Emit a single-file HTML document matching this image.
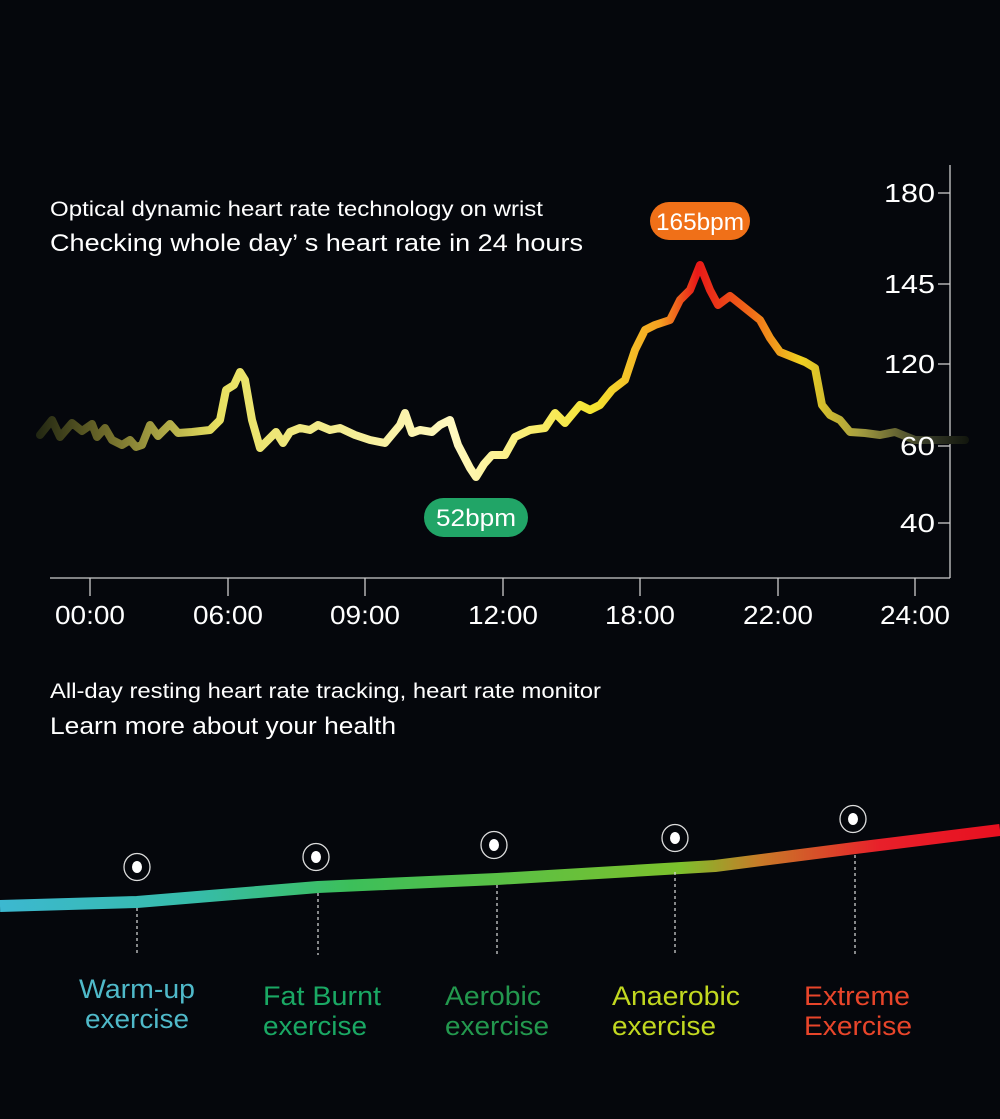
<!DOCTYPE html>
<html><head><meta charset="utf-8"><style>
html,body{margin:0;padding:0;background:#05070c;}
svg{display:block}
text{font-family:"Liberation Sans",sans-serif;}
</style></head><body>
<svg width="1000" height="1119" viewBox="0 0 1000 1119">
<defs>
<linearGradient id="hr" gradientUnits="userSpaceOnUse" x1="30" y1="0" x2="970" y2="0">
<stop offset="0" stop-color="#1a2010"/>
<stop offset="0.08" stop-color="#6e6a2a"/>
<stop offset="0.2" stop-color="#e8e060"/>
<stop offset="0.45" stop-color="#fff8c0"/>
<stop offset="0.6" stop-color="#f4e430"/>
<stop offset="0.67" stop-color="#f4a020"/>
<stop offset="0.71" stop-color="#e81818"/>
<stop offset="0.77" stop-color="#f07018"/>
<stop offset="0.82" stop-color="#f0d020"/>
<stop offset="0.88" stop-color="#a8a040"/>
<stop offset="0.95" stop-color="#3a3e2a"/>
<stop offset="1" stop-color="#10140c"/>
</linearGradient>
<linearGradient id="band" gradientUnits="userSpaceOnUse" x1="0" y1="0" x2="1000" y2="0">
<stop offset="0" stop-color="#3cb8d0"/>
<stop offset="0.2" stop-color="#36bca8"/>
<stop offset="0.35" stop-color="#3cbf5a"/>
<stop offset="0.68" stop-color="#7cc02c"/>
<stop offset="0.76" stop-color="#c87a28"/>
<stop offset="0.88" stop-color="#e8202a"/>
<stop offset="1" stop-color="#e81020"/>
</linearGradient>
</defs>
<g fill="#fff">
<text x="50" y="216" font-size="21" textLength="493" lengthAdjust="spacingAndGlyphs">Optical dynamic heart rate technology on wrist</text>
<text x="50" y="251" font-size="24" textLength="533" lengthAdjust="spacingAndGlyphs">Checking whole day’ s heart rate in 24 hours</text>
</g>
<g stroke="#ccc" stroke-width="1.3" fill="none">
<line x1="50" y1="578" x2="950" y2="578"/>
<line x1="950" y1="165" x2="950" y2="578"/>
<line x1="90" y1="578" x2="90" y2="596"/><line x1="228" y1="578" x2="228" y2="596"/>
<line x1="365" y1="578" x2="365" y2="596"/><line x1="503" y1="578" x2="503" y2="596"/>
<line x1="640" y1="578" x2="640" y2="596"/><line x1="778" y1="578" x2="778" y2="596"/>
<line x1="915" y1="578" x2="915" y2="596"/>
<line x1="938" y1="193" x2="950" y2="193"/><line x1="938" y1="284" x2="950" y2="284"/>
<line x1="938" y1="364" x2="950" y2="364"/><line x1="938" y1="446" x2="950" y2="446"/>
<line x1="938" y1="523" x2="950" y2="523"/>
</g>
<polyline fill="none" stroke="url(#hr)" stroke-width="8" stroke-linejoin="round" stroke-linecap="round"
points="40,435 52,420 60,437 72,423 82,431 92,424 97,437 105,428 112,440 122,445 130,440 136,447 142,445 150,425 158,436 170,424 178,433 192,432 210,430 220,420 226,390 234,385 240,372 245,380 252,420 260,448 268,440 276,432 283,443 290,432 300,428 310,430 318,425 330,430 340,428 355,435 370,440 385,443 400,425 405,413 412,433 420,430 432,432 440,425 450,420 458,445 470,468 476,477 484,464 492,455 505,455 515,437 530,430 545,428 555,413 565,423 580,405 590,410 600,405 612,390 625,380 635,350 645,330 655,325 670,320 680,300 690,290 700,265 710,290 718,305 730,296 745,308 760,320 770,338 780,352 795,358 805,362 815,368 822,405 830,415 840,420 850,432 865,433 880,435 895,432 915,440 935,440 965,440"/>
<g fill="#fff" font-size="26" text-anchor="end">
<text x="935" y="202" textLength="51" lengthAdjust="spacingAndGlyphs">180</text><text x="935" y="293" textLength="51" lengthAdjust="spacingAndGlyphs">145</text>
<text x="935" y="373" textLength="51" lengthAdjust="spacingAndGlyphs">120</text><text x="935" y="455" textLength="35" lengthAdjust="spacingAndGlyphs">60</text><text x="935" y="532" textLength="35" lengthAdjust="spacingAndGlyphs">40</text>
</g>
<g fill="#fff" font-size="26" text-anchor="middle">
<text x="90" y="624" textLength="70" lengthAdjust="spacingAndGlyphs">00:00</text><text x="228" y="624" textLength="70" lengthAdjust="spacingAndGlyphs">06:00</text><text x="365" y="624" textLength="70" lengthAdjust="spacingAndGlyphs">09:00</text>
<text x="503" y="624" textLength="70" lengthAdjust="spacingAndGlyphs">12:00</text><text x="640" y="624" textLength="70" lengthAdjust="spacingAndGlyphs">18:00</text><text x="778" y="624" textLength="70" lengthAdjust="spacingAndGlyphs">22:00</text>
<text x="915" y="624" textLength="70" lengthAdjust="spacingAndGlyphs">24:00</text>
</g>
<rect x="650" y="202" width="100" height="38" rx="19" fill="#f07018"/>
<text x="700" y="230" fill="#fff" font-size="24" text-anchor="middle" textLength="88" lengthAdjust="spacingAndGlyphs">165bpm</text>
<rect x="424" y="498" width="104" height="39" rx="19.5" fill="#21a567"/>
<text x="476" y="526" fill="#fff" font-size="24" text-anchor="middle" textLength="80" lengthAdjust="spacingAndGlyphs">52bpm</text>
<g fill="#fff">
<text x="50" y="698" font-size="21" textLength="551" lengthAdjust="spacingAndGlyphs">All-day resting heart rate tracking, heart rate monitor</text>
<text x="50" y="734" font-size="24" textLength="346" lengthAdjust="spacingAndGlyphs">Learn more about your health</text>
</g>
<polyline fill="none" stroke="url(#band)" stroke-width="12" stroke-linejoin="round"
points="0,906 137,902 318,887 497,879 715,866 855,848 1000,830"/>
<g stroke="#ddd" stroke-width="1.2" stroke-dasharray="3,3">
<line x1="137" y1="908" x2="137" y2="955"/><line x1="318" y1="893" x2="318" y2="955"/>
<line x1="497" y1="885" x2="497" y2="955"/><line x1="675" y1="872" x2="675" y2="955"/>
<line x1="855" y1="855" x2="855" y2="955"/>
</g>
<g fill="none" stroke="#ddd" stroke-width="1.3">
<ellipse cx="137" cy="867" rx="13" ry="13.5"/><ellipse cx="316" cy="857" rx="13" ry="13.5"/>
<ellipse cx="494" cy="845" rx="13" ry="13.5"/><ellipse cx="675" cy="838" rx="13" ry="13.5"/>
<ellipse cx="853" cy="819" rx="13" ry="13.5"/>
</g>
<g fill="#fff">
<ellipse cx="137" cy="867" rx="5" ry="6"/><ellipse cx="316" cy="857" rx="5" ry="6"/>
<ellipse cx="494" cy="845" rx="5" ry="6"/><ellipse cx="675" cy="838" rx="5" ry="6"/>
<ellipse cx="853" cy="819" rx="5" ry="6"/>
</g>
<g font-size="27">
<text x="79" y="998" fill="#4fb9c9" textLength="116" lengthAdjust="spacingAndGlyphs">Warm-up</text><text x="85" y="1028" fill="#4fb9c9" textLength="104" lengthAdjust="spacingAndGlyphs">exercise</text>
<text x="263" y="1005" fill="#1aa864" textLength="118" lengthAdjust="spacingAndGlyphs">Fat Burnt</text><text x="263" y="1035" fill="#1aa864" textLength="104" lengthAdjust="spacingAndGlyphs">exercise</text>
<text x="445" y="1005" fill="#23984e" textLength="96" lengthAdjust="spacingAndGlyphs">Aerobic</text><text x="445" y="1035" fill="#23984e" textLength="104" lengthAdjust="spacingAndGlyphs">exercise</text>
<text x="612" y="1005" fill="#c2d820" textLength="128" lengthAdjust="spacingAndGlyphs">Anaerobic</text><text x="612" y="1035" fill="#c2d820" textLength="104" lengthAdjust="spacingAndGlyphs">exercise</text>
<text x="804" y="1005" fill="#e8452a" textLength="106" lengthAdjust="spacingAndGlyphs">Extreme</text><text x="804" y="1035" fill="#e8452a" textLength="108" lengthAdjust="spacingAndGlyphs">Exercise</text>
</g>
</svg>
</body></html>
